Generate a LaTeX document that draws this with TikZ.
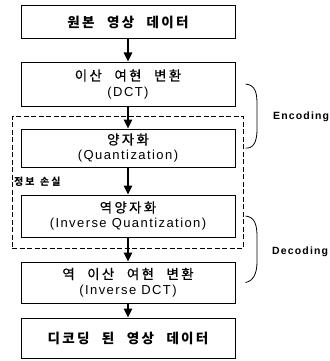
\documentclass[tikz,border=0pt]{standalone}
\usepackage{fontspec}
\setmainfont{Liberation Sans}
\newfontfamily\kr{Noto Sans CJK KR}
\newfontfamily\krm[FakeBold=0.6]{Noto Sans CJK KR}
\newfontfamily\lat[LetterSpace=11]{Liberation Sans}
\usetikzlibrary{arrows.meta}
\newcommand{\sg}{\hspace{2.3pt}}
\newcommand{\wg}{\hspace{12.5pt}}
\begin{document}
\begin{tikzpicture}[x=1pt,y=-1pt,
  box/.style={draw, line width=1pt, minimum width=214pt, inner sep=0pt, align=center,
    font=\fontsize{13}{15.5}\selectfont},
  kt/.style={},
  arr/.style={line width=1.3pt, -{Triangle[length=9pt,width=8.5pt]}},
  lossbox/.style={draw, line width=0.6pt, dash pattern=on 5pt off 2.5pt, inner sep=0pt},
  brace/.style={line width=0.8pt},
  lab/.style={font=\lat\bfseries\fontsize{10.5}{12}\selectfont, anchor=west, inner sep=0pt}]
\useasboundingbox (0,0) rectangle (329,361);
\node[lossbox, minimum width=231pt, minimum height=132pt] (loss) at (127.5,182) {};
\node[box, minimum height=33pt] (b1) at (128,22.5) {\kr\bfseries\fontsize{13.5}{15.5}\selectfont 원\sg 본\wg 영\sg 상\wg 데\sg 이\sg 터};
\node[box, minimum height=44pt] (b2) at (128,84) {{\krm\fontsize{13.5}{15.5}\selectfont 이\sg 산\wg 여\sg 현\wg 변\sg 환}\\{\lat (DCT)}};
\node[box, minimum height=38pt] (b3) at (128,148) {{\krm\fontsize{13.5}{15.5}\selectfont 양\sg 자\sg 화}\\{\lat (Quantization)}};
\node[box, minimum height=42pt] (b4) at (128,216) {{\krm\fontsize{13.5}{15.5}\selectfont 역\sg 양\sg 자\sg 화}\\{\lat (Inverse Quantization)}};
\node[box, minimum height=41pt] (b5) at (128,282.5) {{\krm\fontsize{13.5}{15.5}\selectfont 역\wg 이\sg 산\wg 여\sg 현\wg 변\sg 환}\\{\lat (Inverse DCT)}};
\node[box, minimum height=40pt] (b6) at (128,338) {\kr\bfseries\fontsize{13.5}{15.5}\selectfont 디\sg 코\sg 딩\wg 된\wg 영\sg 상\wg 데\sg 이\sg 터};
\node[anchor=west, inner sep=0pt, font=\kr\bfseries\fontsize{10}{11}\selectfont] (loss label) at (14,182) {정\hspace{2pt}보\hspace{5.5pt}손\hspace{2pt}실};
\draw[arr] (b1) -- (b2);
\draw[arr] (b2) -- (b3);
\draw[arr] (b3) -- (b4);
\draw[arr] (b4) -- (b5);
\draw[arr] (b5) -- (b6);
\coordinate (e1) at ([xshift=10pt]b2.east);
\coordinate (e2) at ([xshift=10pt]b3.east);
\coordinate (d1) at ([xshift=10pt]b4.east);
\coordinate (d2) at ([xshift=10pt]b5.east);
\draw[brace] (e1) .. controls (255,85) and (257,92) .. (257,104) -- (257,130) .. controls (257,142) and (253,149) .. (e2);
\draw[brace] (d1) .. controls (255,217) and (257,225) .. (257,237) -- (257,262) .. controls (257,274) and (253,281) .. (d2);
\node[lab] (enc) at (273,117) {Encoding};
\node[lab] (dec) at (272,252) {Decoding};
\end{tikzpicture}
\end{document}
